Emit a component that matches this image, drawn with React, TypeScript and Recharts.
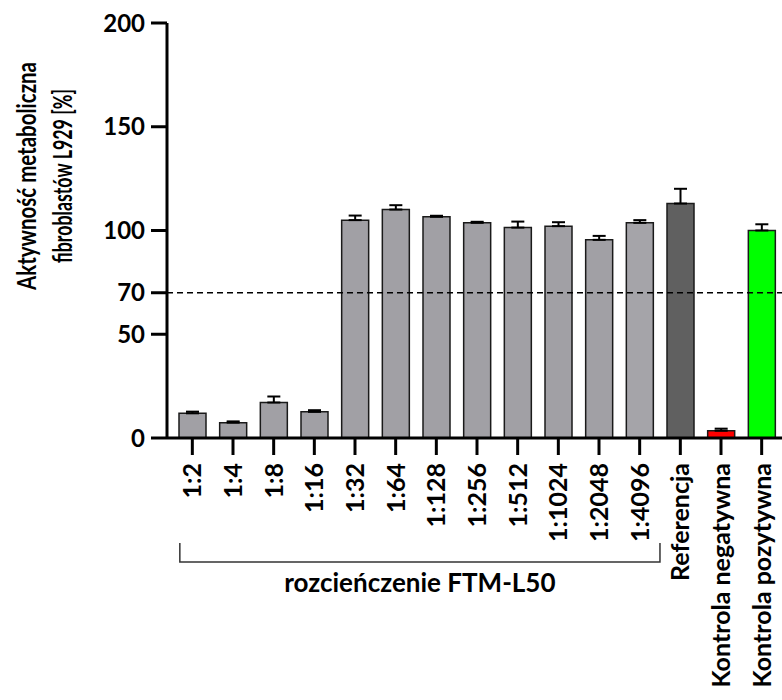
import React from 'react';
import { BarChart, Bar, XAxis, YAxis, Cell, ErrorBar, ReferenceLine } from 'recharts';

const FONT = 'Lato, "Noto Sans", sans-serif';

const categories = [
  '1:2', '1:4', '1:8', '1:16', '1:32', '1:64', '1:128', '1:256', '1:512', '1:1024',
  '1:2048', '1:4096', 'Referencja', 'Kontrola negatywna', 'Kontrola pozytywna',
];
const values = [11.9, 7.4, 17.1, 12.6, 105.0, 110.1, 106.6, 103.7, 101.4, 102.1, 95.5, 103.7, 113.0, 3.5, 100.0];
const errors = [0.8, 0.6, 2.9, 0.8, 2.2, 2.1, 0.5, 0.5, 2.9, 1.9, 1.9, 1.3, 7.1, 1.0, 3.0];
const barColors = [
  '#a1a0a5', '#a1a0a5', '#a1a0a5', '#a1a0a5', '#a1a0a5', '#a1a0a5', '#a1a0a5', '#a1a0a5',
  '#a1a0a5', '#a1a0a5', '#a1a0a5', '#a5a4a9', '#606060', '#ff0000', '#00ff00',
];
const yTicks = [0, 50, 70, 100, 150, 200];
const thresholdValue = 70;
const bracketLabel = 'rozcieńczenie FTM-L50';
const bracketFirst = 0;
const bracketLast = 11;
const yTitleLines = ['Aktywność metaboliczna', 'fibroblastów L929 [%]'];

const data = categories.map((name, i) => ({ name, value: values[i], err: [0, errors[i]] }));

let bracketStartX = 0;

function XTick(props: any) {
  const { x, y, payload, index } = props;
  if (index === bracketFirst) bracketStartX = x;
  return (
    <g>
      <g transform={`translate(${x},${y})`}>
        <text
          x={-8}
          y={0}
          dy="0.36em"
          transform="rotate(-90)"
          textAnchor="end"
          fill="#000"
          fontFamily={FONT}
          fontWeight={700}
          fontSize={25}
        >
          {payload.value}
        </text>
      </g>
      {index === bracketLast && (
        <g>
          <path
            d={`M${bracketStartX - 12.5},${y + 88} L${bracketStartX - 12.5},${y + 107} L${x + 20.3},${y + 107} L${x + 20.3},${y + 88}`}
            fill="none"
            stroke="#333"
            strokeWidth={1.5}
          />
          <text
            x={(bracketStartX - 12.5 + x + 20.3) / 2}
            y={y + 137}
            textAnchor="middle"
            fill="#000"
            fontFamily={FONT}
            fontWeight={700}
            fontSize={26}
          >
            {bracketLabel}
          </text>
        </g>
      )}
    </g>
  );
}

function YTitle() {
  return (
    <g>
      <text
        x={36}
        y={176}
        transform="rotate(-90 36 176)"
        textAnchor="middle"
        fill="#000"
        fontFamily={FONT}
        fontWeight={700}
        fontSize={26}
        textLength={228}
        lengthAdjust="spacingAndGlyphs"
      >
        {yTitleLines[0]}
      </text>
      <text
        x={72}
        y={176}
        transform="rotate(-90 72 176)"
        textAnchor="middle"
        fill="#000"
        fontFamily={FONT}
        fontWeight={700}
        fontSize={26}
        textLength={174}
        lengthAdjust="spacingAndGlyphs"
      >
        {yTitleLines[1]}
      </text>
    </g>
  );
}

export default function App() {
  return (
    <div style={{ position: 'absolute', left: 0, top: 0, width: 782, height: 700, background: '#fff' }}>
      <BarChart
        width={782}
        height={700}
        data={data}
        margin={{ top: 23, right: 0, bottom: 0, left: 0 }}
        barSize={27}
      >
        <XAxis
          dataKey="name"
          height={262}
          interval={0}
          tickSize={17}
          tickMargin={0}
          padding={{ left: 5, right: 0 }}
          axisLine={{ stroke: '#000', strokeWidth: 3 }}
          tickLine={{ stroke: '#000', strokeWidth: 3 }}
          tick={(p: any) => <XTick {...p} />}
        />
        <YAxis
          width={167}
          domain={[0, 200]}
          ticks={yTicks}
          interval={0}
          tickSize={16}
          tickMargin={6}
          axisLine={{ stroke: '#000', strokeWidth: 3 }}
          tickLine={{ stroke: '#000', strokeWidth: 3 }}
          tick={{ fill: '#000', fontSize: 24, fontWeight: 700, fontFamily: FONT }}
          label={<YTitle />}
        />
        <ReferenceLine y={thresholdValue} stroke="#000" strokeWidth={1.3} strokeDasharray="6 4" />
        <Bar dataKey="value" stroke="#1a1a1a" strokeWidth={1.5} isAnimationActive={false}>
          {data.map((d, i) => (
            <Cell key={d.name} fill={barColors[i]} />
          ))}
          <ErrorBar dataKey="err" width={6.5} stroke="#000" strokeWidth={2} direction="y" isAnimationActive={false} />
        </Bar>
      </BarChart>
    </div>
  );
}
